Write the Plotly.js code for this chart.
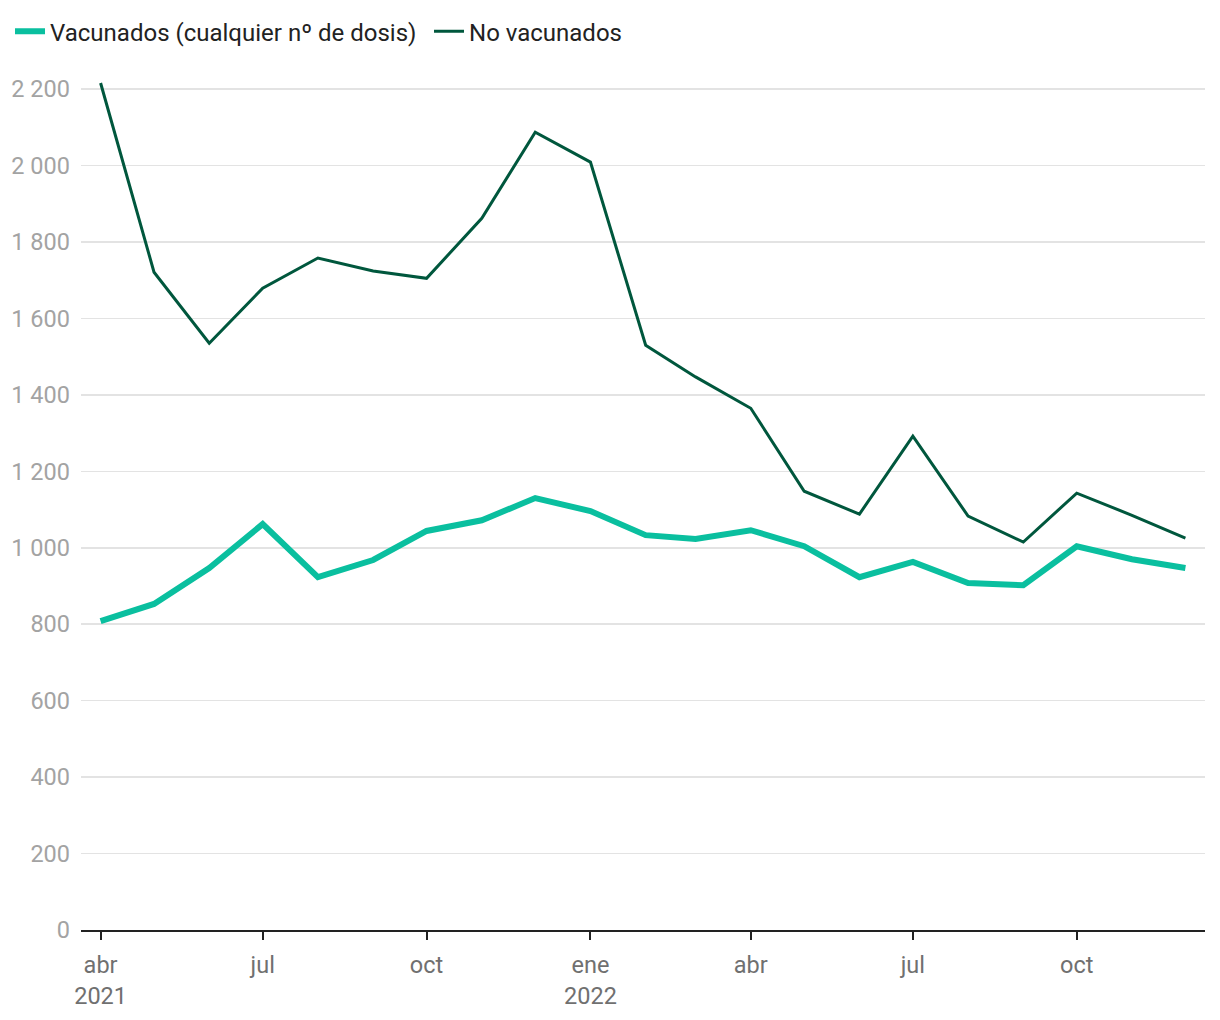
<!DOCTYPE html>
<html>
<head>
<meta charset="utf-8">
<script src="https://cdn.plot.ly/plotly-3.0.1.min.js"></script>
<style>
html,body{margin:0;padding:0;background:#fff;}
#chart{width:1220px;height:1020px;}
</style>
</head>
<body>
<div id="chart"></div>
<script>
const months = ["2021-04-01","2021-05-01","2021-06-01","2021-07-01","2021-08-01","2021-09-01","2021-10-01","2021-11-01","2021-12-01","2022-01-01","2022-02-01","2022-03-01","2022-04-01","2022-05-01","2022-06-01","2022-07-01","2022-08-01","2022-09-01","2022-10-01","2022-11-01","2022-12-01"];
const vacunados = [808,853,947,1062,923,968,1044,1072,1130,1096,1033,1023,1046,1004,923,963,908,902,1004,970,947];
const noVacunados = [2216,1721,1535,1679,1758,1724,1705,1862,2087,2009,1530,1447,1365,1148,1088,1292,1083,1015,1143,1085,1025];
const xTickVals = ["2021-04-01","2021-07-01","2021-10-01","2022-01-01","2022-04-01","2022-07-01","2022-10-01"];
const xTickText = ["abr<br>2021","jul","oct","ene<br>2022","abr","jul","oct"];
const yTickVals = [0,200,400,600,800,1000,1200,1400,1600,1800,2000,2200];

const traces = [
  {x: months, y: vacunados, type: "scatter", mode: "lines", name: "Vacunados (cualquier nº de dosis)",
   line: {color: "#0abf9f", width: 6}},
  {x: months, y: noVacunados, type: "scatter", mode: "lines", name: "No vacunados",
   line: {color: "#00573d", width: 3}}
];

const layout = {
  width: 1220, height: 1020,
  margin: {l: 81, r: 15, t: 70, b: 90},
  paper_bgcolor: "#fff", plot_bgcolor: "#fff",
  separators: ", ",
  font: {family: "Roboto, sans-serif", size: 23, color: "#666"},
  showlegend: true,
  legend: {orientation: "h", xref: "container", x: 0.0082, xanchor: "left", yref: "container", y: 0.991, yanchor: "top",
           font: {size: 24, color: "#222"}, itemwidth: 30, entrywidth: 374, bgcolor: "rgba(0,0,0,0)", tracegroupgap: 0},
  xaxis: {type: "date", range: ["2021-03-21","2022-12-12"], tickmode: "array",
          tickvals: xTickVals, ticktext: xTickText, showgrid: false, zeroline: false,
          showline: true, linecolor: "#222", linewidth: 2,
          ticks: "outside", ticklen: 8, tickwidth: 2, tickcolor: "#222",
          ticklabelstandoff: 5,
          tickfont: {size: 23.5, color: "#707070"}},
  yaxis: {range: [0, 2250], tickmode: "array", tickvals: yTickVals, tickformat: ",d",
          showgrid: true, gridcolor: "#e3e3e3", gridwidth: 1.5, zeroline: false,
          showline: false, ticks: "", ticklabelstandoff: 10,
          tickfont: {size: 23.5, color: "#a3a3a3"}},
  hovermode: false
};

Plotly.newPlot("chart", traces, layout, {displayModeBar: false, staticPlot: true});
</script>
</body>
</html>
